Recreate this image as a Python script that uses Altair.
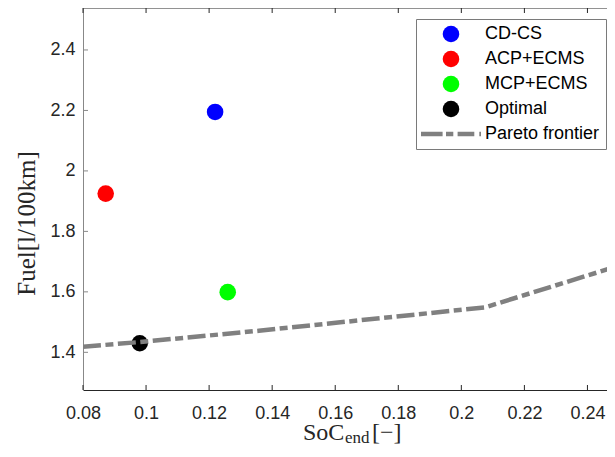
import altair as alt
import pandas as pd

# ---- data ----
series = ["CD-CS", "ACP+ECMS", "MCP+ECMS", "Optimal"]
soc_end = [0.1219, 0.0872, 0.1259, 0.0980]
fuel = [2.195, 1.925, 1.599, 1.430]

pareto_soc = [0.0800, 0.0980, 0.1358, 0.1892, 0.2075, 0.2473]
pareto_fuel = [1.4185, 1.4340, 1.4714, 1.5290, 1.5488, 1.6777]

legend_names = series + ["Pareto frontier"]
legend_colors = ["#0000ff", "#ff0000", "#00ff00", "#000000", "#808080"]

x_ticks = [0.08, 0.1, 0.12, 0.14, 0.16, 0.18, 0.2, 0.22, 0.24]
y_ticks = [1.4, 1.6, 1.8, 2.0, 2.2, 2.4]

x_domain = [0.08, 0.2462]
y_domain = [1.2754, 2.5388]

W, H = 524, 382

# dash-dot stroke glyph for the legend entry (in symbol units)
dash_path = ("M-3.618,-0.277H-1.013V0.277H-3.618Z "
             "M-0.603,-0.277H0.277V0.277H-0.603Z "
             "M0.796,-0.277H2.810V0.277H0.796Z "
             "M3.413,-0.277H3.618V0.277H3.413Z")
legend_shapes = ["circle", "circle", "circle", "circle", dash_path]

pts = pd.DataFrame({"series": series, "soc": soc_end, "fuel": fuel})
par = pd.DataFrame({"soc": pareto_soc, "fuel": pareto_fuel})
xt = pd.DataFrame({"t": x_ticks})
yt = pd.DataFrame({"t": y_ticks})

xs = alt.Scale(domain=x_domain, nice=False, zero=False)
ys = alt.Scale(domain=y_domain, nice=False, zero=False)

xaxis = alt.Axis(title=None, values=x_ticks, format="~g", ticks=False, tickSize=0,
                 grid=False, domainColor="#262626", domainWidth=1,
                 labelFont="Liberation Sans", labelFontSize=18, labelColor="#262626",
                 labelPadding=14, labelFlush=False, labelOverlap=False)
yaxis = alt.Axis(title="Fuel[l/100km]", values=y_ticks, format="~g", ticks=False, tickSize=0,
                 grid=False, domainColor="#888888", domainWidth=1,
                 labelFont="Liberation Sans", labelFontSize=18, labelColor="#262626",
                 labelPadding=8, labelOverlap=False,
                 titleFont="Liberation Serif", titleFontSize=25, titleFontWeight="normal",
                 titleColor="#262626", titleAngle=270, titleAlign="center",
                 titleBaseline="middle", titleX=-57, titleY=215)

legend = alt.Legend(title=None, orient="none", legendX=333, legendY=11,
                    strokeColor="#7a7a7a", fillColor="white", padding=6,
                    symbolSize=275, symbolStrokeWidth=0, symbolOffset=20,
                    labelOffset=25, rowPadding=7,
                    labelFont="Liberation Sans", labelFontSize=18, labelColor="#000000",
                    labelLimit=300)

color = alt.Color("series:N", scale=alt.Scale(domain=legend_names, range=legend_colors), legend=legend)
shape = alt.Shape("series:N", scale=alt.Scale(domain=legend_names, range=legend_shapes), legend=legend)

points = alt.Chart(pts).mark_point(filled=True, size=275, opacity=1, strokeWidth=0).encode(
    x=alt.X("soc:Q", scale=xs, axis=xaxis),
    y=alt.Y("fuel:Q", scale=ys, axis=yaxis),
    color=color, shape=shape,
)

line = alt.Chart(par).mark_line(color="#808080", strokeWidth=4.5,
                                strokeDash=[18, 4.5, 8, 4.5], clip=True).encode(
    x=alt.X("soc:Q", scale=xs, axis=xaxis),
    y=alt.Y("fuel:Q", scale=ys, axis=yaxis),
)

bottom_ticks = alt.Chart(xt).mark_rule(color="#262626", strokeWidth=1).encode(
    x=alt.X("t:Q", scale=xs, axis=xaxis), y=alt.value(H), y2=alt.value(H - 5))
top_ticks = alt.Chart(xt).mark_rule(color="#262626", strokeWidth=1).encode(
    x=alt.X("t:Q", scale=xs, axis=xaxis), y=alt.value(0), y2=alt.value(5))
left_ticks = alt.Chart(yt).mark_rule(color="#888888", strokeWidth=1).encode(
    y=alt.Y("t:Q", scale=ys, axis=yaxis), x=alt.value(0), x2=alt.value(5))
top_spine = alt.Chart(pd.DataFrame({"a": [x_domain[0]], "b": [x_domain[1]]})).mark_rule(
    color="#262626", strokeWidth=1).encode(
    x=alt.X("a:Q", scale=xs, axis=xaxis), x2="b:Q", y=alt.value(0))

tfont = "Liberation Serif"
xt1 = alt.Chart(pd.DataFrame({"s": ["SoC"]})).mark_text(
    font=tfont, fontSize=24, color="#262626", align="left", baseline="alphabetic").encode(
    text="s:N", x=alt.value(220), y=alt.value(432))
xt2 = alt.Chart(pd.DataFrame({"s": ["end"]})).mark_text(
    font=tfont, fontSize=17, color="#262626", align="left", baseline="alphabetic").encode(
    text="s:N", x=alt.value(262), y=alt.value(435))
xt3 = alt.Chart(pd.DataFrame({"s": ["[\u2212]"]})).mark_text(
    font=tfont, fontSize=24, color="#262626", align="left", baseline="alphabetic").encode(
    text="s:N", x=alt.value(289), y=alt.value(432))

chart = alt.layer(
    points, line, bottom_ticks, top_ticks, left_ticks, top_spine, xt1, xt2, xt3
).properties(
    width=W, height=H,
    autosize=alt.AutoSizeParams(type="none"),
    padding={"left": 75, "top": 0, "right": 0, "bottom": 56},
    background="white",
).configure_view(stroke=None)

chart.save("out.html", embed_options={"renderer": "svg", "actions": False})
